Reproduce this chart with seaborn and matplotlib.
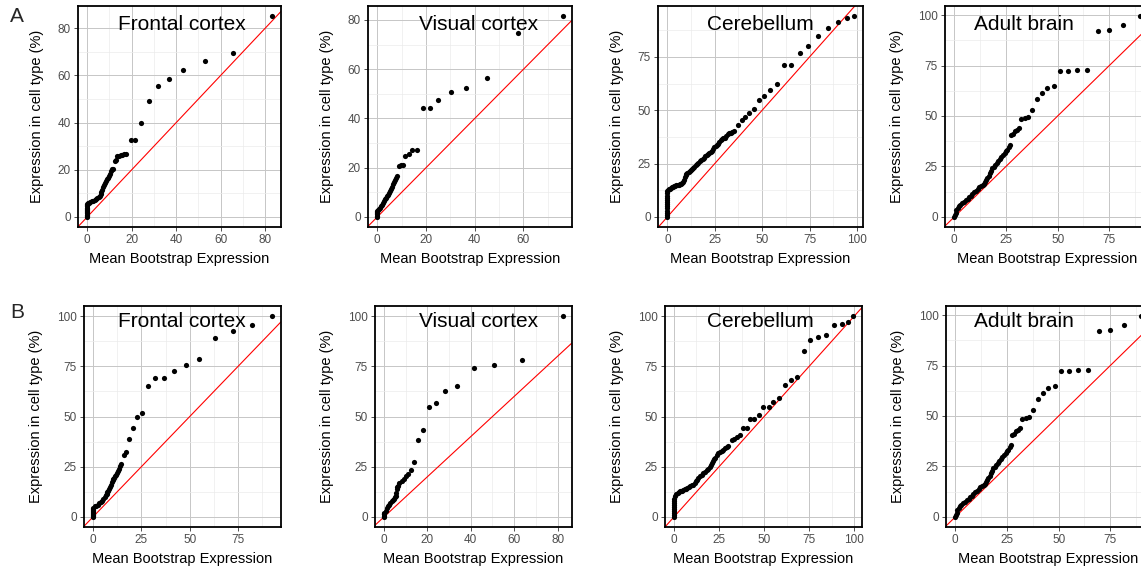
import numpy as np
import pandas as pd
import matplotlib
matplotlib.use("Agg")
import matplotlib.pyplot as plt
from matplotlib.ticker import MultipleLocator
import seaborn as sns

# ---------------- data ----------------
panel_titles = ["Frontal cortex", "Visual cortex", "Cerebellum", "Adult brain",
                "Frontal cortex", "Visual cortex", "Cerebellum", "Adult brain"]
row_letters = ["A", "B"]

a1_x = [0,0,0,0,0,0,0,0,0,0,0,0, 0.3,0.8,1.3,2.0,2.7,3.4,4.0,4.6,5.2,5.6,6.0,6.4,6.8,7.2,7.6,8.0,8.4,8.8,9.3,9.8,10.2,10.6,11.0,11.4,12.4,12.8,13.5,14.3,15.0,15.8,16.6,17.5,19.7,21.6,24.4,27.7,31.7,36.8,43.1,53.1,65.7,83.0]
a1_y = [0,0.5,1.0,1.5,2.0,2.5,3.0,3.5,4.0,4.5,5.0,5.4, 5.8,6.1,6.3,6.6,6.9,7.1,7.5,7.9,8.4,9.0,9.7,10.6,11.6,12.6,13.6,14.6,15.4,16.0,16.7,17.2,18.3,19.6,20.2,20.5,23.8,24.2,25.8,26.0,26.2,26.4,26.6,26.9,32.7,32.7,39.8,49.3,55.5,58.5,62.2,66.1,69.6,85.2]

a2_x = [0,0,0,0,0,0,0.3,0.6,1.0,1.4,1.9,2.3,2.8,3.3,3.7,4.0,4.4,4.7,5.1,5.5,6.0,6.5,7.0,7.3,7.7,8.0,8.8,9.6,10.6,11.5,12.9,14.4,16.5,18.8,21.6,25.1,30.2,36.3,44.9,57.7,76.1]
a2_y = [0,0.5,1.0,1.5,2.0,2.5,2.7,3.1,3.8,4.5,5.0,5.5,6.4,7.1,7.8,8.4,9.1,9.8,10.5,11.5,12.3,13.2,14.3,14.9,15.8,16.7,20.7,21.0,21.3,24.7,25.5,27.1,27.1,44.1,44.3,47.5,50.8,52.5,56.3,74.6,81.6]

a3_x = [0,0,0,0,0,0,0,0,0,0,0,0,0,
        0.35,0.8,1.2,1.8,2.4,3.0,3.6,4.2,4.8,5.4,6.0,6.5,7.0,7.6,8.3,8.8,9.2,9.6,10.1,10.6,
        11.2,11.8,12.4,13.0,13.6,14.2,14.9,15.6,16.3,17.1,17.9,18.6,19.3,20.0,20.7,21.4,22.1,22.8,
        23.5,24.2,24.8,25.4,26.0,26.7,27.4,28.1,28.8,29.5,30.3,31.1,32.0,32.7,33.5,34.3,35.2,
        37.3,39.1,41.1,43.2,45.5,48.1,50.8,54.2,57.9,61.6,65.3,69.7,74.2,79.5,84.6,89.7,94.5,98.2]
a3_y = [0,1,2,3,4,5,6,7,8,9,10,11,12,
        12.6,12.9,13.3,13.6,13.9,14.1,14.3,14.6,14.8,15.0,15.2,15.4,15.6,16.0,16.4,17.4,18.8,19.6,20.3,20.7,
        21.1,21.5,21.9,22.5,23.0,23.5,24.1,24.7,25.3,26.0,26.6,27.2,27.8,28.5,29.2,29.6,30.0,30.4,
        30.8,31.8,32.8,33.2,33.6,34.4,35.2,35.9,36.6,36.9,37.2,38.0,38.8,39.2,39.5,39.8,40.2,
        43.1,45.6,46.6,48.9,50.6,55.0,56.6,59.4,62.5,71.3,71.4,77.0,80.2,84.7,88.3,91.4,93.0,94.1]

adult_x = [0,0.3,0.6,1.0,1.6,2.3,3.0,3.8,4.6,5.5,6.4,7.2,8.0,8.8,9.7,10.5,11.4,12.2,13.0,13.8,14.5,15.0,15.5,16.0,16.6,17.2,17.8,18.4,19.0,19.7,20.5,21.2,22.0,22.8,23.6,24.3,25.0,25.6,26.3,27.0,27.5,28.2,29.3,30.5,31.5,32.5,34.2,35.8,37.5,39.8,42.3,45.0,48.2,51.3,55.2,59.5,64.2,69.3,75.0,81.7,89.7]
adult_y = [0,1.2,2.2,3.3,4.2,5.2,5.9,6.7,7.6,8.3,9.1,9.8,10.5,11.3,12.2,13.0,13.8,14.6,15.2,15.9,16.5,17.3,18.2,19.1,20.3,21.8,23.0,24.0,24.8,25.5,26.5,27.5,28.5,29.6,30.6,31.6,32.5,33.4,34.4,35.5,40.8,41.3,42.5,43.3,44.0,48.6,48.8,49.3,52.9,58.3,61.2,64.0,64.8,72.4,72.4,72.6,72.7,91.9,92.4,95.2,99.5]

b1_x = [0,0,0,0,0,0,0,0,0,0,
        1.0,1.7,2.4,3.2,4.0,4.7,5.4,6.0,6.6,7.1,7.5,7.9,8.3,8.8,9.2,9.7,10.1,10.5,10.9,11.4,11.8,12.3,12.7,13.3,13.9,14.6,
        16.0,17.0,18.6,20.5,22.6,25.2,28.5,31.9,36.5,41.8,48.1,54.9,63.2,72.4,82.1,92.5]
b1_y = [0,0.5,1,1.5,2,2.5,3,3.5,4,4.5,
        5.3,5.7,6.1,6.7,7.3,8.1,9.0,9.9,10.8,11.6,12.3,13.1,14.0,15.0,16.1,17.2,18.3,18.9,19.4,20.2,21.1,21.9,22.8,24.0,25.2,26.4,
        30.7,32.2,39.0,44.2,50.0,51.5,65.4,69.1,69.1,72.4,75.6,78.4,89.2,92.4,95.3,100]

b2_x = [0,0,0,0,0.15,0.8,1.4,2.0,2.5,3.0,3.5,4.0,4.5,5.0,5.4,5.6,5.8,6.2,6.5,7.1,8.2,9.4,10.3,11.2,12.5,13.8,15.7,18.0,20.6,23.8,28.0,33.8,41.4,50.5,63.8,82.5]
b2_y = [0,0.7,1.3,2.0,1.7,3.2,4.5,5.3,6.1,7.0,7.8,8.4,9.0,9.7,10.3,12.0,14.0,14.7,15.3,16.9,17.8,18.9,20.6,21.4,23.4,27.6,38.5,43.2,54.5,56.8,62.8,65.3,73.9,75.4,77.9,100]

b3_x = [0,0,0,0,0,0,0,0,0,0,
        0.55,1.2,2.0,2.8,3.5,4.3,5.1,5.9,6.7,7.4,8.1,8.9,9.8,10.7,11.5,12.2,12.9,13.5,14.4,15.4,16.3,17.2,18.1,19.1,19.9,
        20.6,21.3,21.9,22.4,22.8,23.7,24.6,25.5,26.5,27.4,28.3,29.2,30.2,
        32.0,33.3,34.8,36.7,38.5,40.4,42.4,44.4,47.0,49.3,52.6,55.0,58.1,61.5,64.8,68.3,72.0,75.6,79.8,84.4,88.9,93.1,96.5,99.3]
b3_y = [0,1,2,3,4,5,6,7,8,9,
        10.6,11.2,12.0,12.4,12.8,13.1,13.4,13.8,14.1,14.6,15.0,15.3,15.7,16.1,17.0,17.8,18.6,19.4,20.2,21.1,21.7,22.4,23.2,24.1,25.1,
        26.1,26.9,27.7,28.6,29.4,30.6,31.9,32.3,32.7,33.5,34.4,35.0,35.5,
        38.5,39.0,39.7,40.7,44.2,44.2,48.7,48.7,50.5,54.5,54.7,57.3,59.0,65.9,68.1,69.8,82.4,88.0,89.7,90.4,95.3,96.2,97.2,100]

series_x = [a1_x, a2_x, a3_x, adult_x, b1_x, b2_x, b3_x, adult_x]
series_y = [a1_y, a2_y, a3_y, adult_y, b1_y, b2_y, b3_y, adult_y]

x_steps = [20, 20, 25, 25, 25, 20, 25, 25]
y_steps = [20, 20, 25, 25, 25, 25, 25, 25]

# ---------------- layout / style ----------------
sns.set_theme(style="white")
plt.rcParams["font.family"] = ["Liberation Sans", "DejaVu Sans"]

W, H = 1141, 569
fig = plt.figure(figsize=(W / 100, H / 100), dpi=100)

# axes boxes in pixels: (left, right, top, bottom)
boxes = [(78, 281, 6, 227), (368, 572, 6, 227), (658, 863, 6, 227), (945, 1149, 6, 227),
         (84, 281, 306, 527), (375, 572, 306, 527), (665, 862, 306, 527), (946, 1150, 306, 527)]
title_xfrac = [0.51, 0.54, 0.50, 0.385, 0.497, 0.525, 0.484, 0.38]
title_yfrac = [0.892, 0.892, 0.892, 0.892, 0.904, 0.904, 0.904, 0.904]

for i in range(8):
    l, r, t, b = boxes[i]
    ax = fig.add_axes([l / W, 1 - b / H, (r - l) / W, (b - t) / H])
    df = pd.DataFrame({"x": series_x[i], "y": series_y[i]})
    ax.axline((0, 0), slope=1, color="red", lw=0.8, zorder=2)
    sns.scatterplot(data=df, x="x", y="y", ax=ax, color="black", s=14,
                    linewidth=0, zorder=3)
    ax.margins(0.05)
    ax.xaxis.set_major_locator(MultipleLocator(x_steps[i]))
    ax.xaxis.set_minor_locator(MultipleLocator(x_steps[i] / 2))
    ax.yaxis.set_major_locator(MultipleLocator(y_steps[i]))
    ax.yaxis.set_minor_locator(MultipleLocator(y_steps[i] / 2))
    ax.grid(which="major", color="#c6c6c6", lw=0.7)
    ax.grid(which="minor", color="#ebebeb", lw=0.5)
    ax.set_axisbelow(True)
    for sp in ax.spines.values():
        sp.set_color("black")
        sp.set_linewidth(1.3)
    ax.tick_params(which="major", length=3, width=0.6, color="#333333",
                   labelsize=8.5, labelcolor="#4d4d4d", pad=2,
                   bottom=True, left=True)
    ax.tick_params(which="minor", length=0)
    ax.set_xlabel("Mean Bootstrap Expression", fontsize=10.5, color="black", labelpad=4)
    ax.set_ylabel("Expression in cell type (%)", fontsize=10.5, color="black", labelpad=10)
    ax.text(title_xfrac[i], title_yfrac[i], panel_titles[i], transform=ax.transAxes,
            ha="center", va="baseline", fontsize=15, color="black", zorder=4)

fig.text(17 / W, 1 - 17 / H, row_letters[0], fontsize=15, ha="center", va="center")
fig.text(17 / W, 1 - 312 / H, row_letters[1], fontsize=15, ha="center", va="center")

fig.savefig("out.png", dpi=100, facecolor="white")
